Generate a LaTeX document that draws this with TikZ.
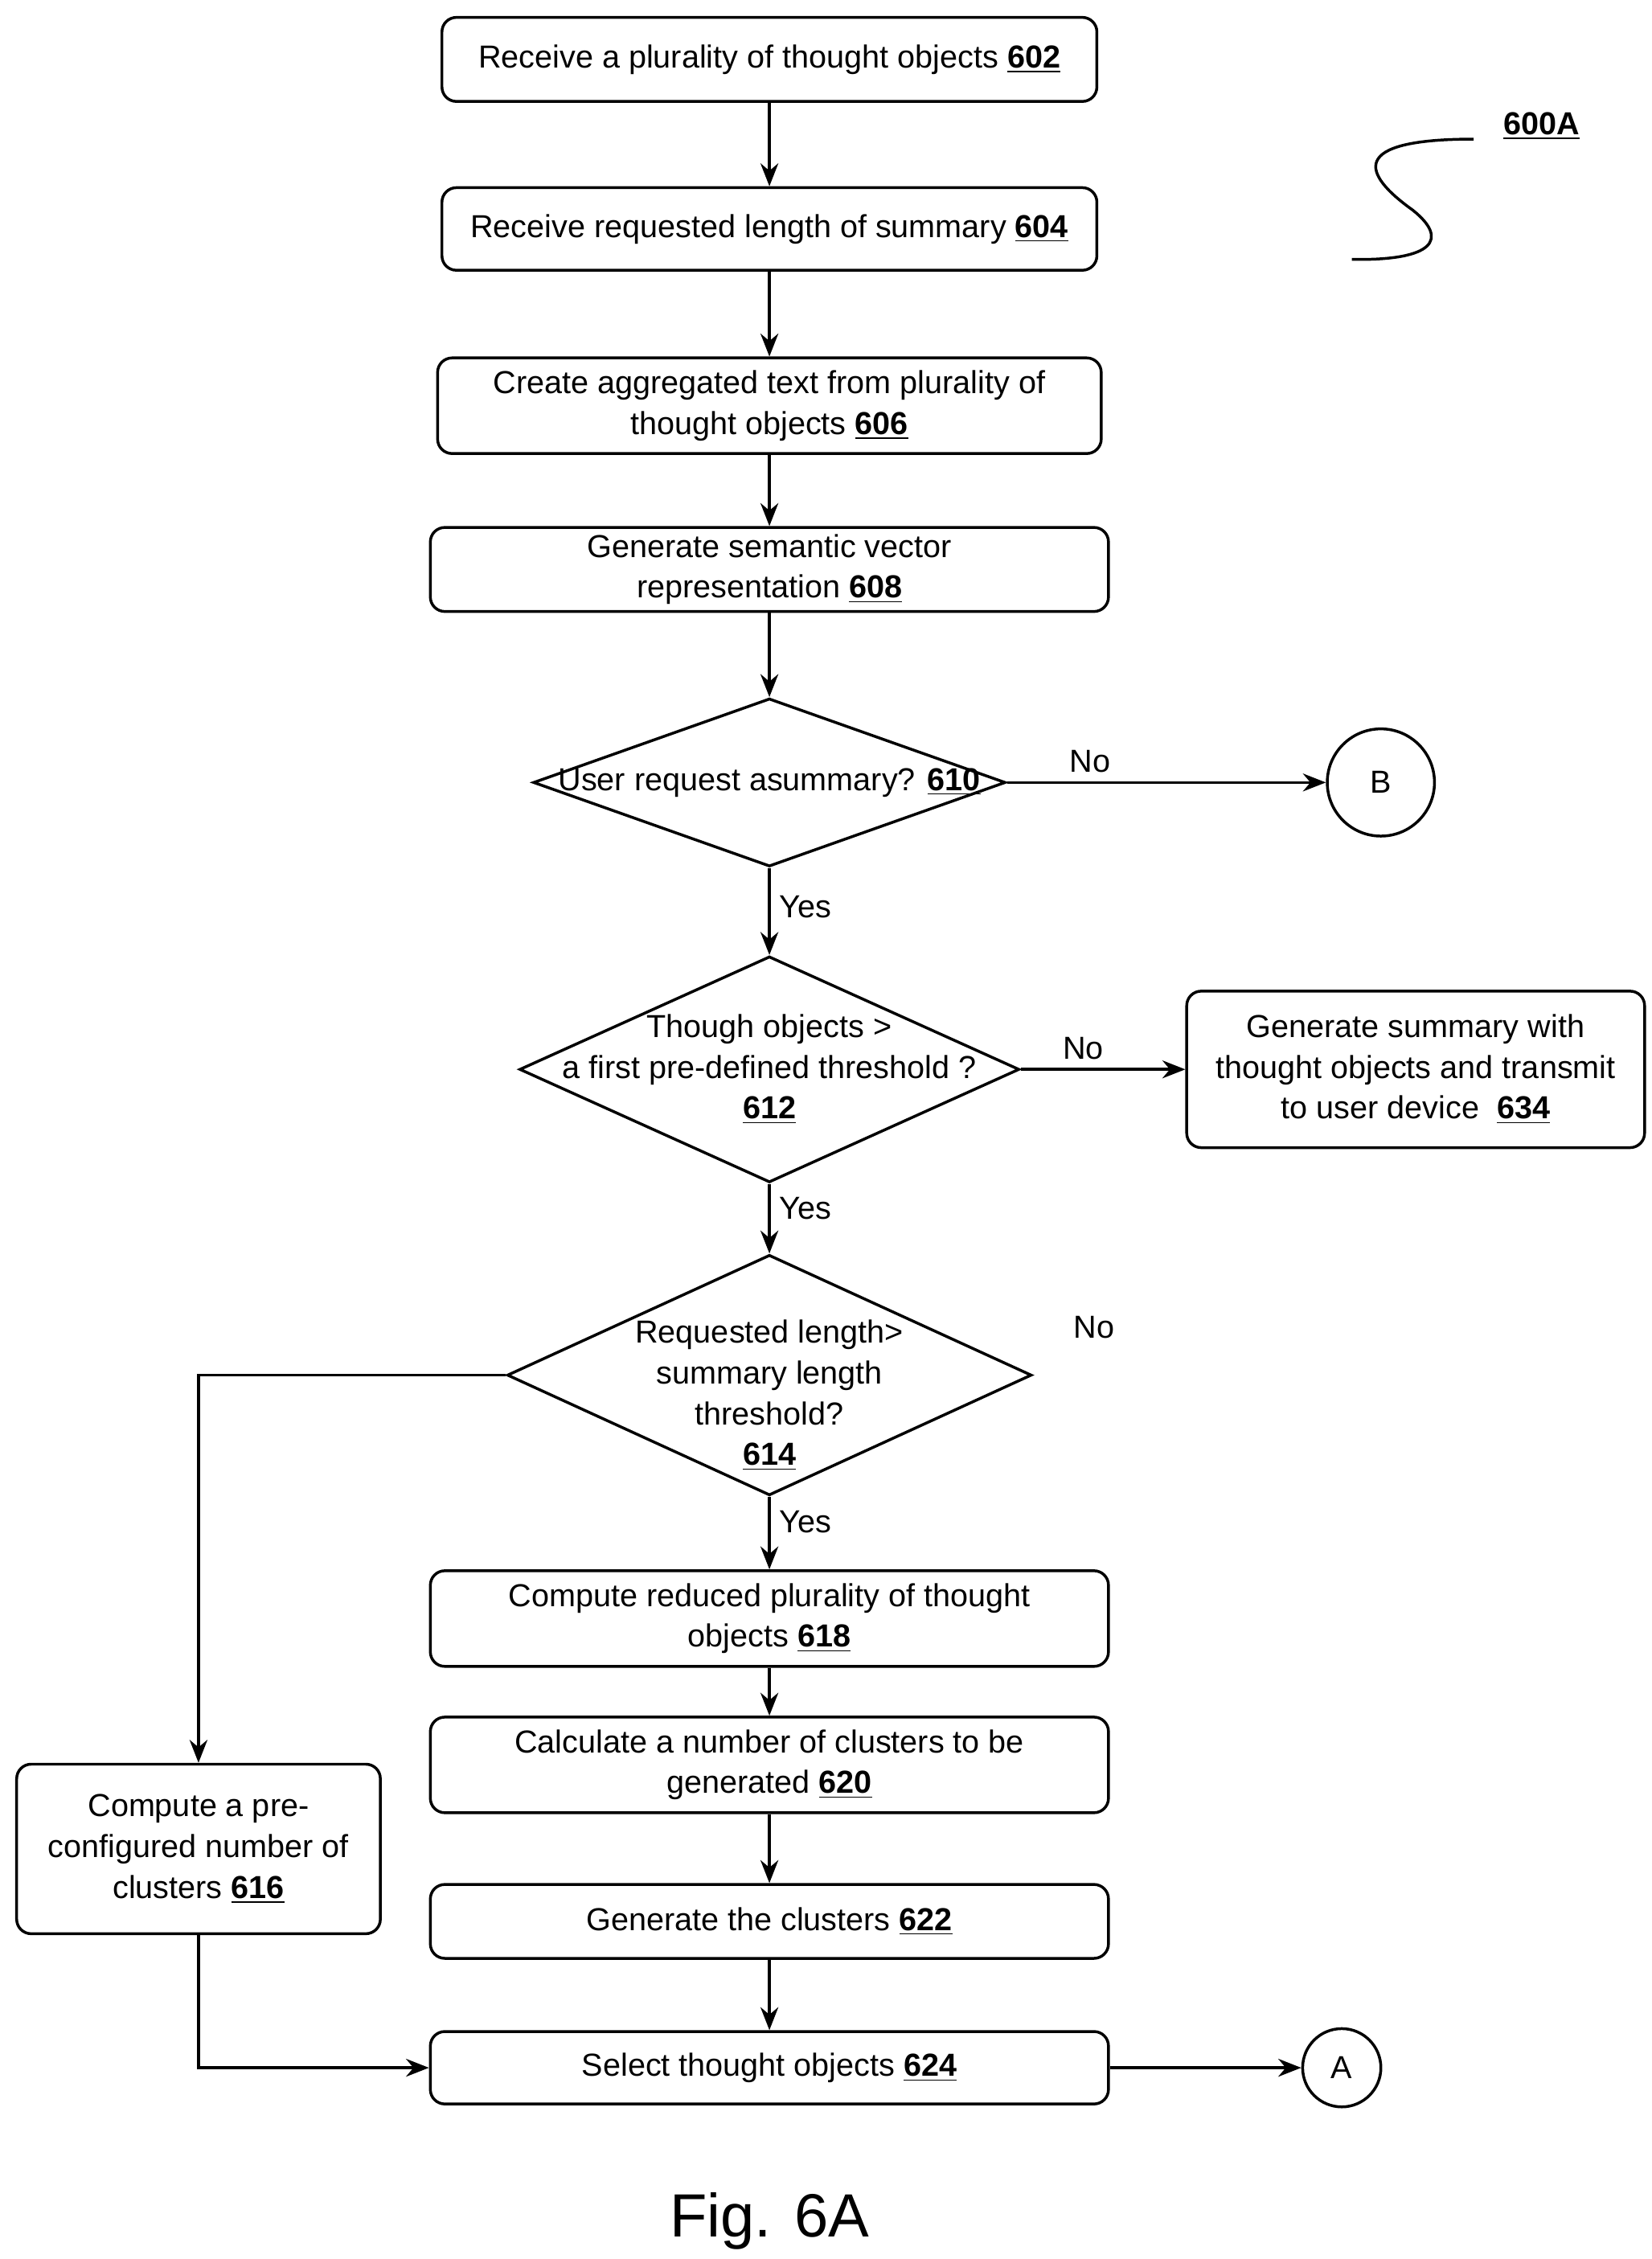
\documentclass[tikz,border=0pt]{standalone}
\usepackage{fontspec}
\setmainfont{Liberation Sans}
\usetikzlibrary{shapes.geometric,arrows.meta}
\begin{document}
\begin{tikzpicture}[x=0.02cm,y=-0.02cm,
  every node/.style={font=\fontsize{12.5}{16}\selectfont},
  box/.style={draw,line width=1.1pt,rounded corners=0.2cm,align=center,inner sep=1pt},
  dia/.style={draw,line width=1.1pt,diamond,align=center,inner sep=0pt},
  circ/.style={draw,line width=1.1pt,circle,inner sep=0pt},
  arr/.style={line width=1.1pt,-{Stealth[length=9pt,width=7pt]}},
  lbl/.style={font=\fontsize{12.5}{16}\selectfont}]
\useasboundingbox (0,0) rectangle (1140,1559);
\node[box,minimum width=452*0.02cm,minimum height=58*0.02cm] (n602) at (531,41) {Receive a plurality of thought objects \textbf{\underline{602}}};
\node[box,minimum width=452*0.02cm,minimum height=57*0.02cm] (n604) at (531,158) {Receive requested length of summary \textbf{\underline{604}}};
\node[box,minimum width=458*0.02cm,minimum height=66*0.02cm] (n606) at (531,280) {Create aggregated text from plurality of\\thought objects \textbf{\underline{606}}};
\node[box,minimum width=468*0.02cm,minimum height=58*0.02cm] (n608) at (531,393) {Generate semantic vector\\representation \textbf{\underline{608}}};
\node[dia,minimum width=326*0.02cm,minimum height=116*0.02cm] (n610) at (531,540) {};
\node at (531,540) {User request a\\summary? \textbf{\underline{610}}};
\node[circ,minimum size=74*0.02cm] (B) at (953,540) {B};
\node[dia,minimum width=345*0.02cm,minimum height=156*0.02cm] (n612) at (531,738) {};
\node[align=center] at (531,738) {Though objects >\\a first pre-defined threshold ?\\\textbf{\underline{612}}};
\node[box,minimum width=316*0.02cm,minimum height=108*0.02cm] (n634) at (977,738) {Generate summary with\\thought objects and transmit\\to user device~~\textbf{\underline{634}}};
\node[dia,minimum width=362*0.02cm,minimum height=166*0.02cm] (n614) at (531,949) {};
\node[align=center] at (531,963) {Requested length>\\summary length\\threshold?\\\textbf{\underline{614}}};
\node[box,minimum width=468*0.02cm,minimum height=66*0.02cm] (n618) at (531,1117) {Compute reduced plurality of thought\\objects \textbf{\underline{618}}};
\node[box,minimum width=468*0.02cm,minimum height=66*0.02cm] (n620) at (531,1218) {Calculate a number of clusters to be\\generated \textbf{\underline{620}}};
\node[box,minimum width=468*0.02cm,minimum height=51*0.02cm] (n622) at (531,1326) {Generate the clusters \textbf{\underline{622}}};
\node[box,minimum width=468*0.02cm,minimum height=50*0.02cm] (n624) at (531,1427) {Select thought objects \textbf{\underline{624}}};
\node[box,minimum width=251*0.02cm,minimum height=117*0.02cm] (n616) at (137,1276) {Compute a pre-\\configured number of\\clusters \textbf{\underline{616}}};
\node[circ,minimum size=54*0.02cm] (A) at (926,1427) {A};
\draw[arr] (n602) -- (n604);
\draw[arr] (n604) -- (n606);
\draw[arr] (n606) -- (n608);
\draw[arr] (n608) -- (n610);
\draw[arr] (n610.east) -- (B.west) node[pos=0.26,above,lbl] {No};
\draw[arr] (n610.south) -- (n612.north) node[pos=0.45,right,lbl] {Yes};
\draw[arr] (n612.east) -- (n634.west) node[pos=0.38,above,lbl] {No};
\draw[arr] (n612.south) -- (n614.north) node[pos=0.35,right,lbl] {Yes};
\draw[arr] (n614.south) -- (n618.north) node[pos=0.35,right,lbl] {Yes};
\draw[arr] (n618) -- (n620);
\draw[arr] (n620) -- (n622);
\draw[arr] (n622) -- (n624);
\draw[arr] (n624.east) -- (A.west);
\draw[arr] (n614.west) -- (137,949) -- (n616.north);
\draw[arr] (n616.south) -- (137,1427) -- (n624.west);
\node[lbl] at (755,916) {No};
\node[font=\fontsize{12.5}{16}\selectfont\bfseries] (lab) at (1064,87) {\underline{600A}};
\draw[line width=1.1pt] (1017,96) .. controls (930,96) and (940,120) .. (975,145) .. controls (1000,165) and (990,180) .. (933,179);
\node[font=\fontsize{24}{28}\selectfont] (fig) at (531,1533) {Fig. 6A};
\end{tikzpicture}
\end{document}
